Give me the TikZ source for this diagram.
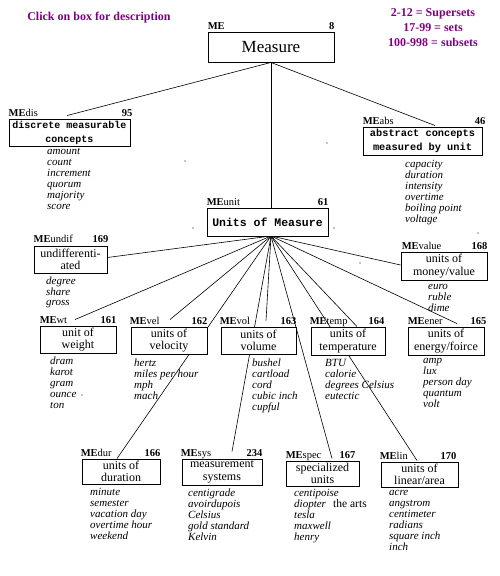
\documentclass[tikz,border=0pt]{standalone}
\usepackage{fontspec}
\setmainfont{Liberation Serif}
\newfontfamily\monofont{Liberation Mono}
\usetikzlibrary{calc}
\definecolor{ttl}{RGB}{128,0,128}
\pgfdeclarelayer{bg}
\pgfsetlayers{bg,main}
\tikzset{
  box/.style={draw, fill=white, line width=0.9pt, inner sep=0pt, align=center,
    font=\fontsize{12}{12.5}\selectfont},
  bigbox/.style={box, font=\monofont\bfseries\fontsize{10}{14}\selectfont},
  lbl/.style={inner sep=0pt, font=\fontsize{10.5}{11}\selectfont},
  num/.style={inner sep=0pt, font=\bfseries\fontsize{10.5}{11}\selectfont},
  wl/.style={anchor=north west, align=left, inner sep=0pt,
    font=\itshape\fontsize{11}{11}\selectfont},
  conn/.style={line width=0.6pt},
  hd/.style={inner sep=0pt, text=ttl, font=\bfseries\fontsize{12}{15}\selectfont, align=center}
}
\begin{document}
\begin{tikzpicture}[x=1pt,y=-1pt]
\useasboundingbox (0,0) rectangle (499,576);

% headings
\node[hd] (title) at (99,18) {Click on box for description};
\node[hd] (legend) at (433,28) {2-12 = Supersets\\17-99 = sets\\100-998 = subsets};

% boxes
\node[box, minimum width=126pt, minimum height=30pt, font=\fontsize{17}{17}\selectfont] (ME) at (271,47) {Measure};
\node[bigbox, minimum width=121pt, minimum height=27pt] (dis) at (69.5,132.5) {discrete measurable\\concepts};
\node[bigbox, minimum width=119pt, minimum height=28pt, font=\monofont\bfseries\fontsize{10.3}{14}\selectfont] (abs) at (422.5,141) {abstract concepts\\measured by unit};
\node[bigbox, minimum width=121pt, minimum height=28pt, font=\monofont\bfseries\fontsize{11.5}{14}\selectfont] (unit) at (267.5,222) {Units of Measure};
\node[box, minimum width=73pt, minimum height=27pt] (undif) at (70.5,259.5) {undifferenti-\\ated};
\node[box, minimum width=76pt, minimum height=27pt] (wt) at (78,339.5) {unit of\\weight};
\node[box, minimum width=76pt, minimum height=27pt] (vel) at (169,340.5) {units of\\velocity};
\node[box, minimum width=75pt, minimum height=27pt] (vol) at (258.5,340.5) {units of\\volume};
\node[box, minimum width=74pt, minimum height=28pt] (temp) at (348,341) {units of\\temperature};
\node[box, minimum width=76pt, minimum height=28pt] (ener) at (446,341) {units of\\energy/foirce};
\node[box, minimum width=86pt, minimum height=28pt] (value) at (444,266) {units of\\money/value};
\node[box, minimum width=78pt, minimum height=25pt] (dur) at (121,471.5) {units of\\duration};
\node[box, minimum width=80pt, minimum height=26pt] (sys) at (222,472) {measurement\\systems};
\node[box, minimum width=73pt, minimum height=25pt] (spec) at (322.5,473.5) {specialized\\units};
\node[box, minimum width=77pt, minimum height=25pt] (lin) at (419.5,474.5) {units of\\linear/area};

% labels and numbers
\node[lbl, anchor=base west] (MEL) at ($(ME.north west)+(0,-2)$) {\textbf{ME}};
\node[num, anchor=base east] (MEN) at ($(ME.north east)+(0,-2)$) {8};
\node[lbl, anchor=base west] (disL) at ($(dis.north west)+(0,-2)$) {\textbf{ME}dis};
\node[num, anchor=base east] (disN) at ($(dis.north east)+(2,-2)$) {95};
\node[lbl, anchor=base west] (absL) at ($(abs.north west)+(0,-2)$) {\textbf{ME}abs};
\node[num, anchor=base east] (absN) at ($(abs.north east)+(3,-2)$) {46};
\node[lbl, anchor=base west] (unitL) at ($(unit.north west)+(0,-2)$) {\textbf{ME}unit};
\node[num, anchor=base east] (unitN) at ($(unit.north east)+(0,-2)$) {61};
\node[lbl, anchor=base west] (undifL) at ($(undif.north west)+(0,-3)$) {\textbf{ME}undif};
\node[num, anchor=base east] (undifN) at ($(undif.north east)+(1,-3)$) {169};
\node[lbl, anchor=base west] (wtL) at ($(wt.north west)+(0,-2)$) {\textbf{ME}wt};
\node[num, anchor=base east] (wtN) at ($(wt.north east)+(0,-2)$) {161};
\node[lbl, anchor=base west] (velL) at ($(vel.north west)+(-1,-2)$) {\textbf{ME}vel};
\node[num, anchor=base east] (velN) at ($(vel.north east)+(0,-2)$) {162};
\node[lbl, anchor=base west] (volL) at ($(vol.north west)+(-1,-2)$) {\textbf{ME}vol};
\node[num, anchor=base east] (volN) at ($(vol.north east)+(0,-2)$) {163};
\node[lbl, anchor=base west] (tempL) at ($(temp.north west)+(-1,-2)$) {\textbf{ME}temp};
\node[num, anchor=base east] (tempN) at ($(temp.north east)+(-1,-2)$) {164};
\node[lbl, anchor=base west] (enerL) at ($(ener.north west)+(0,-2)$) {\textbf{ME}ener};
\node[num, anchor=base east] (enerN) at ($(ener.north east)+(2,-2)$) {165};
\node[lbl, anchor=base west] (valueL) at ($(value.north west)+(1,-2)$) {\textbf{ME}value};
\node[num, anchor=base east] (valueN) at ($(value.north east)+(0,-2)$) {168};
\node[lbl, anchor=base west] (durL) at ($(dur.north west)+(-1,-2)$) {\textbf{ME}dur};
\node[num, anchor=base east] (durN) at ($(dur.north east)+(0,-2)$) {166};
\node[lbl, anchor=base west] (sysL) at ($(sys.north west)+(-1,-2)$) {\textbf{ME}sys};
\node[num, anchor=base east] (sysN) at ($(sys.north east)+(0,-2)$) {234};
\node[lbl, anchor=base west] (specL) at ($(spec.north west)+(0,-2)$) {\textbf{ME}spec};
\node[num, anchor=base east] (specN) at ($(spec.north east)+(-4,-2)$) {167};
\node[lbl, anchor=base west] (linL) at ($(lin.north west)+(-1,-2)$) {\textbf{ME}lin};
\node[num, anchor=base east] (linN) at ($(lin.north east)+(-2,-2)$) {170};

% word lists
\node[wl] (disW) at (47,148.5) {amount\\count\\increment\\quorum\\majority\\score};
\node[wl] (absW) at (405,160) {capacity\\duration\\intensity\\overtime\\boiling point\\voltage};
\node[wl, font=\itshape\fontsize{11}{10.5}\selectfont] (undifW) at (46,277) {degree\\share\\gross};
\node[wl] (wtW) at (50,356.5) {dram\\karot\\gram\\ounce\\ton};
\node[wl] (velW) at (134,358.5) {hertz\\miles per hour\\mph\\mach};
\node[wl] (volW) at (252,358.5) {bushel\\cartload\\cord\\cubic inch\\cupful};
\node[wl] (tempW) at (325,359.5) {BTU\\calorie\\degrees Celsius\\eutectic};
\node[wl] (valueW) at (428,284.5) {euro\\ruble\\dime};
\node[wl] (enerW) at (423,358.5) {amp\\lux\\person day\\quantum\\volt};
\node[wl] (durW) at (90,488.5) {minute\\semester\\vacation day\\overtime hour\\weekend};
\node[wl] (sysW) at (188,488.5) {centigrade\\avoirdupois\\Celsius\\gold standard\\Kelvin};
\node[wl] (specW) at (294,489.5) {centipoise\\diopter\\tesla\\maxwell\\henry};
\node[inner sep=0pt, anchor=west, font=\fontsize{11.5}{12}\selectfont] (arts) at (333,504) {the arts};
\node[wl] (linW) at (389,490.5) {acre\\angstrom\\centimeter\\radians\\square inch\\inch};

% connector end points
\coordinate (hub) at (271,236);
\coordinate (disin) at ($(dis.north)+(-2.5,-3)$);
\coordinate (absin) at ($(abs.north)+(12.5,-1)$);
\coordinate (undifin) at ($(undif.east)+(0,-2)$);
\coordinate (wtin) at ($(wt.north)+(-3,-6)$);
\coordinate (velin) at ($(vel.north)+(1,-7)$);
\coordinate (durin) at ($(dur.north)+(-4,0)$);
\coordinate (sysin) at ($(sys.north)+(10,-7)$);
\coordinate (volin) at ($(vol.north)+(7.5,-6)$);
\coordinate (specin) at ($(spec.north)+(9.5,-2)$);
\coordinate (tempin) at ($(temp.north)+(9,0)$);
\coordinate (linin) at ($(lin.north)+(-2.5,-1)$);
\coordinate (enerin) at ($(ener.north)+(11,-3)$);
\coordinate (valuein) at ($(value.west)+(0,-1)$);

\begin{pgfonlayer}{bg}
\draw[conn] (ME.south) -- (disin);
\draw[conn] (ME.south) -- (absin);
\draw[conn] (ME.south) -- (ME.south |- unit.north);
\foreach \t in {undifin,wtin,velin,durin,sysin,volin,specin,tempin,linin,enerin,valuein}
  \draw[conn] (hub) -- (\t);
\end{pgfonlayer}

% stray marks
\foreach \p in {(185,161),(327,143),(193,228),(334,228),(82,395),(360,263),(478,233)}
  \fill \p circle (0.6);
\end{tikzpicture}
\end{document}
